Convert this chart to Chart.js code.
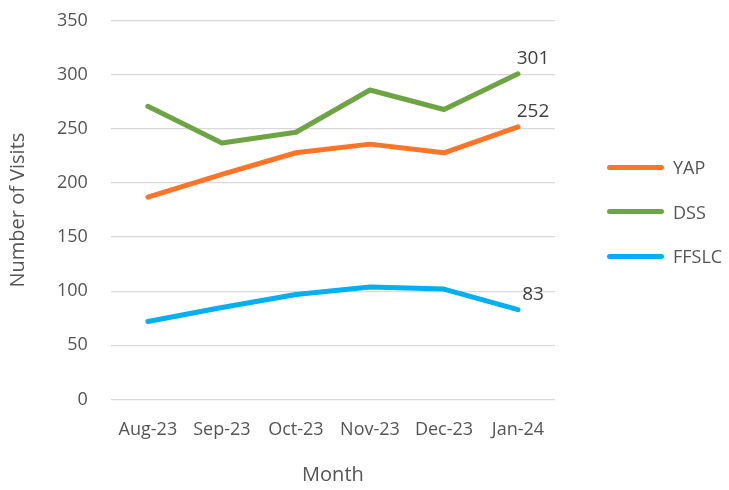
<!DOCTYPE html>
<html>
<head>
<meta charset="utf-8">
<script src="https://cdn.jsdelivr.net/npm/chart.js@4.4.1/dist/chart.umd.min.js"></script>
<style>
    html, body { margin: 0; padding: 0; background: #fff; }
    #wrap { position: relative; width: 729px; height: 490px; }
    #legend {
        position: absolute; left: 607px; top: 145px;
        font-family: "Open Sans", sans-serif; font-size: 18px; color: #555;
    }
    .item { display: flex; align-items: center; height: 44.5px; }
    .swatch { width: 57px; height: 5px; border-radius: 3px; margin-right: 9px; }
</style>
</head>
<body>
<div id="wrap">
    <canvas id="visitsChart" width="729" height="490"></canvas>
    <div id="legend"></div>
</div>
<script>
// Data
const months = ['Aug-23', 'Sep-23', 'Oct-23', 'Nov-23', 'Dec-23', 'Jan-24'];
const yapVisits = [187, 208, 228, 236, 228, 252];
const dssVisits = [271, 237, 247, 286, 268, 301];
const ffslcVisits = [72, 85, 97, 104, 102, 83];
const seriesNames = ['YAP', 'DSS', 'FFSLC'];
const seriesColors = ['#FF7426', '#6DA543', '#00B0F0'];

const fontFamily = '"Open Sans", sans-serif';
const textColor = '#555555';

// Label the last point of each series, like Excel data labels
const lastPointLabels = {
    id: 'lastPointLabels',
    afterDatasetsDraw(chart) {
        const ctx = chart.ctx;
        ctx.save();
        ctx.font = `19px ${fontFamily}`;
        ctx.fillStyle = '#404040';
        ctx.textAlign = 'center';
        ctx.textBaseline = 'middle';
        chart.data.datasets.forEach((ds, i) => {
            const meta = chart.getDatasetMeta(i);
            const last = meta.data[meta.data.length - 1];
            if (!last) return;
            ctx.fillText(ds.data[ds.data.length - 1], last.x + 15, last.y - 15);
        });
        ctx.restore();
    }
};

const datasets = [yapVisits, dssVisits, ffslcVisits].map((values, i) => ({
    label: seriesNames[i],
    data: values,
    borderColor: seriesColors[i],
    backgroundColor: seriesColors[i],
    borderWidth: 5,
    borderCapStyle: 'round',
    borderJoinStyle: 'round',
    pointRadius: 0,
    tension: 0,
    fill: false
}));

new Chart(document.getElementById('visitsChart'), {
    type: 'line',
    data: { labels: months, datasets },
    options: {
        responsive: false,
        animation: false,
        layout: { padding: { top: 0, right: 174, bottom: 3, left: 6 } },
        plugins: {
            legend: { display: false },
            tooltip: { enabled: false }
        },
        scales: {
            x: {
                offset: true,
                grid: { display: false },
                border: { display: false },
                ticks: {
                    color: textColor,
                    font: { family: fontFamily, size: 18 },
                    maxRotation: 0,
                    autoSkip: false,
                    padding: 12
                },
                title: {
                    display: true,
                    text: 'Month',
                    color: textColor,
                    font: { family: fontFamily, size: 20 },
                    padding: { top: 10, bottom: 0 }
                }
            },
            y: {
                min: 0,
                max: 350,
                ticks: {
                    stepSize: 50,
                    color: textColor,
                    font: { family: fontFamily, size: 18 },
                    padding: 10
                },
                // invisible tick marks give the gap between labels and grid
                grid: {
                    color: '#D9D9D9',
                    lineWidth: 1.3,
                    drawTicks: true,
                    tickLength: 13,
                    tickColor: 'rgba(0,0,0,0)'
                },
                border: { display: false },
                title: {
                    display: true,
                    text: 'Number of Visits',
                    color: textColor,
                    font: { family: fontFamily, size: 20 },
                    padding: { top: 0, bottom: 17 }
                }
            }
        }
    },
    plugins: [lastPointLabels]
});

// Legend built from the same series arrays
document.getElementById('legend').innerHTML = seriesNames.map((name, i) => `
    <div class="item">
        <div class="swatch" style="background:${seriesColors[i]}"></div>
        <span>${name}</span>
    </div>
`).join('');
</script>
</body>
</html>
